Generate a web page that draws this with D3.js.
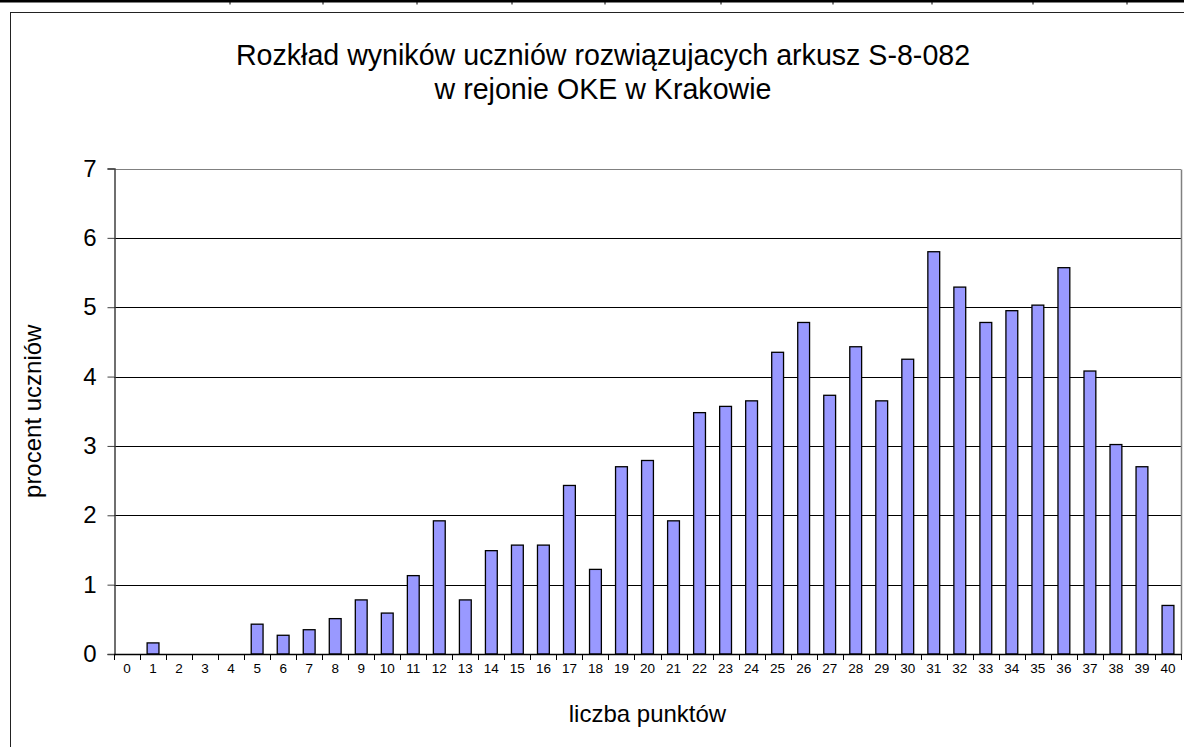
<!DOCTYPE html>
<html>
<head>
<meta charset="utf-8">
<script src="https://cdn.jsdelivr.net/npm/d3@7"></script>
<style>
  html, body { margin: 0; padding: 0; background: #fff; }
  svg { display: block; font-family: "Liberation Sans", Arial, sans-serif; }
</style>
</head>
<body>
<svg id="chart" width="1184" height="747"></svg>
<script>
// ---- data ----
const categories = d3.range(0, 41).map(String);
const values = [
  0, 0.16, 0, 0, 0, 0.43, 0.27, 0.35, 0.51, 0.78,
  0.59, 1.13, 1.92, 0.78, 1.49, 1.57, 1.57, 2.43, 1.22, 2.70,
  2.79, 1.92, 3.48, 3.57, 3.65, 4.35, 4.78, 3.73, 4.43, 3.65,
  4.25, 5.80, 5.29, 4.78, 4.95, 5.03, 5.57, 4.08, 3.02, 2.70,
  0.70
];
const yTicks = [0, 1, 2, 3, 4, 5, 6, 7];
const titleLines = ["Rozkład wyników uczniów rozwiązujacych arkusz S-8-082", "w rejonie OKE w Krakowie"];
const xTitle = "liczba punktów";
const yTitle = "procent uczniów";
const tableColumnEdges = [230, 323, 417, 512, 605, 721, 833, 932, 1033, 1127];

// ---- layout ----
const W = 1184, H = 747;
const plot = { left: 114, right: 1181, top: 168.5, bottom: 654 };
const svg = d3.select("#chart");

// decorative table edge at the very top
svg.append("line").attr("x1", 0).attr("x2", W).attr("y1", 1.2).attr("y2", 1.2)
  .attr("stroke", "#000").attr("stroke-width", 2.6);
svg.selectAll("line.tcol").data(tableColumnEdges).join("line")
  .attr("class", "tcol")
  .attr("x1", d => d).attr("x2", d => d).attr("y1", 0).attr("y2", 4.5)
  .attr("stroke", "#000").attr("stroke-width", 1);

// chart area border
svg.append("rect").attr("x", 10.5).attr("y", 12.5).attr("width", 1186).attr("height", 760)
  .attr("fill", "#fff").attr("stroke", "#222").attr("stroke-width", 1);

// scales
const xSlot = d3.scaleBand().domain(categories).range([plot.left, plot.right]).padding(0);
const xBar = d3.scaleBand().domain(categories).range([plot.left, plot.right])
  .paddingInner(0.545).paddingOuter(0.2725);
const y = d3.scaleLinear().domain([0, 7]).range([plot.bottom, plot.top]);

// gridlines
svg.append("g").selectAll("line").data(yTicks.filter(t => t > 0)).join("line")
  .attr("x1", plot.left).attr("x2", plot.right)
  .attr("y1", d => Math.round(y(d)) + 0.5).attr("y2", d => Math.round(y(d)) + 0.5)
  .attr("stroke", d => d === 7 ? "#808080" : "#000").attr("stroke-width", 1);

// plot area right border
svg.append("line").attr("x1", plot.right + 0.5).attr("x2", plot.right + 0.5)
  .attr("y1", Math.round(plot.top) + 0.5).attr("y2", plot.bottom)
  .attr("stroke", "#808080").attr("stroke-width", 1.5);

// bars
svg.append("g").selectAll("rect").data(values.map((v, i) => ({ c: categories[i], v })).filter(d => d.v > 0))
  .join("rect")
  .attr("x", d => xBar(d.c))
  .attr("width", xBar.bandwidth())
  .attr("y", d => y(d.v))
  .attr("height", d => plot.bottom - y(d.v))
  .attr("fill", "#9999FF").attr("stroke", "#000").attr("stroke-width", 1.3);

// y axis
const yAxis = d3.axisLeft(y).tickValues(yTicks).tickSize(7).tickPadding(11).tickFormat(d3.format("d"));
const gy = svg.append("g").attr("transform", `translate(${plot.left + 0.5},0)`).call(yAxis);
gy.select(".domain").attr("stroke", "#404040").attr("stroke-width", 1.5);
gy.selectAll(".tick line").attr("stroke", "#404040");
gy.selectAll(".tick text").attr("font-size", 24).attr("fill", "#000")
  .attr("font-family", "Liberation Sans, Arial, sans-serif");

// x axis
const xAxis = d3.axisBottom(xSlot).tickSize(0).tickPadding(9);
const gx = svg.append("g").attr("transform", `translate(0,${plot.bottom})`).call(xAxis);
gx.select(".domain").attr("stroke", "#000").attr("stroke-width", 1.5);
gx.selectAll(".tick text").attr("font-size", 13.5).attr("fill", "#000")
  .attr("font-family", "Liberation Sans, Arial, sans-serif");
// tick marks at category boundaries
const boundaries = categories.map(c => xSlot(c)).concat([plot.right]);
svg.append("g").selectAll("line").data(boundaries).join("line")
  .attr("x1", d => Math.round(d) + 0.5).attr("x2", d => Math.round(d) + 0.5)
  .attr("y1", plot.bottom).attr("y2", plot.bottom + 6)
  .attr("stroke", "#000").attr("stroke-width", 1);

// titles
const cx = 603;
svg.append("text").attr("x", cx).attr("y", 65).attr("text-anchor", "middle")
  .attr("font-size", 28.6).text(titleLines[0]);
svg.append("text").attr("x", cx).attr("y", 99).attr("text-anchor", "middle")
  .attr("font-size", 28.6).text(titleLines[1]);

svg.append("text").attr("x", (plot.left + plot.right) / 2).attr("y", 722)
  .attr("text-anchor", "middle").attr("font-size", 24).text(xTitle);

svg.append("text").attr("transform", `translate(41,${(plot.top + plot.bottom) / 2}) rotate(-90)`)
  .attr("text-anchor", "middle").attr("font-size", 24).text(yTitle);
</script>
</body>
</html>
